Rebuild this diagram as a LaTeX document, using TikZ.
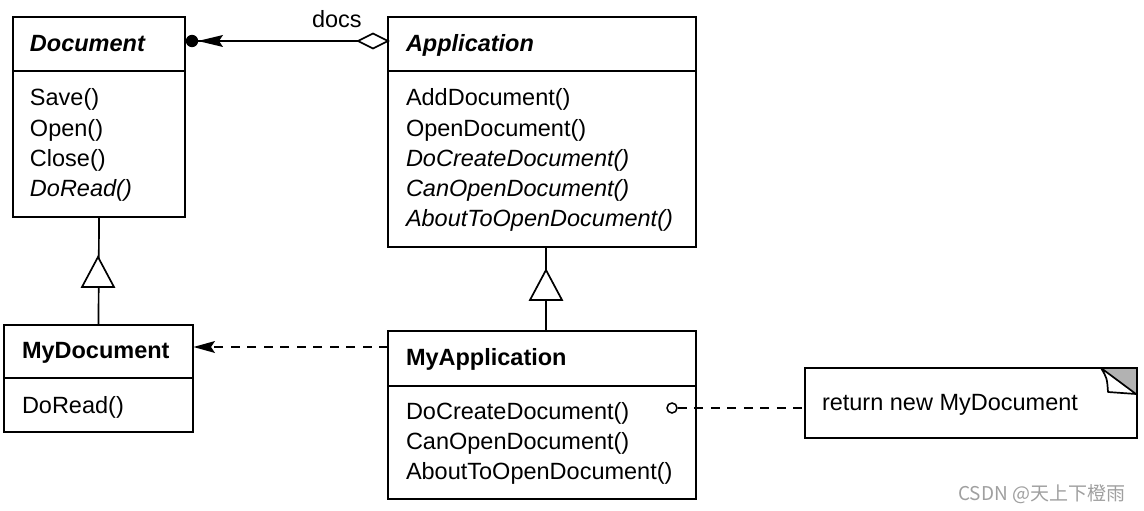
\documentclass[tikz,border=0pt]{standalone}
\usepackage{fontspec}
\setmainfont{Liberation Sans}
\newfontfamily\cjk{Noto Sans CJK SC}
\usetikzlibrary{arrows.meta}
\begin{document}
\begin{tikzpicture}[x=1pt,y=-1pt,
  box/.style={draw, line width=1.7pt, inner sep=0pt, outer sep=0pt},
  txt/.style={anchor=base west, inner sep=0pt, outer sep=0pt, font=\fontsize{23.5}{28}\selectfont},
  ln/.style={line width=1.7pt},
  dsh/.style={line width=1.7pt, dash pattern=on 9pt off 7.5pt},
  inh/.style={line width=1.7pt, fill=white, line join=miter}
]
\useasboundingbox (0,0) rectangle (1144,511);

% helper coordinates
\coordinate (y41) at (0,41);
\coordinate (y71) at (0,71);
\coordinate (y347) at (0,347);
\coordinate (y378) at (0,378);
\coordinate (y386) at (0,386);
\coordinate (ax) at (546,0);

% Document
\node[box, minimum width=172pt, minimum height=200pt] (doc) at (99,117) {};
\draw[ln] (doc.west |- y71) -- (doc.east |- y71);
\node[txt] (doct) at (30,52) {\bfseries\itshape Document};
\node[txt] (d1) at (30,106) {Save()};
\node[txt] (d2) at (30,136) {Open()};
\node[txt] (d3) at (30,166) {Close()};
\node[txt] (d4) at (30,196) {\itshape DoRead()};

% Application
\node[box, minimum width=308pt, minimum height=230pt] (app) at (542,132) {};
\draw[ln] (app.west |- y71) -- (app.east |- y71);
\node[txt] (appt) at (406,52) {\bfseries\itshape Application};
\node[txt] (a1) at (406,106) {AddDocument()};
\node[txt] (a2) at (406,136) {OpenDocument()};
\node[txt] (a3) at (406,166) {\itshape DoCreateDocument()};
\node[txt] (a4) at (406,196) {\itshape CanOpenDocument()};
\node[txt] (a5) at (406,226) {\itshape AboutToOpenDocument()};

% MyDocument
\node[box, minimum width=189pt, minimum height=107pt] (mydoc) at (98.5,378.5) {};
\draw[ln] (mydoc.west |- y378) -- (mydoc.east |- y378);
\node[txt] (mdt) at (22,358) {\bfseries MyDocument};
\node[txt] (md1) at (22,413) {DoRead()};

% MyApplication
\node[box, minimum width=308pt, minimum height=168pt] (myapp) at (542,415) {};
\draw[ln] (myapp.west |- y386) -- (myapp.east |- y386);
\node[txt] (mat) at (406,365) {\bfseries MyApplication};
\node[txt] (ma1) at (406,419) {DoCreateDocument()};
\node[txt] (ma2) at (406,449) {CanOpenDocument()};
\node[txt] (ma3) at (406,479) {AboutToOpenDocument()};

% note
\node[box, minimum width=332pt, minimum height=70pt] (note) at (971,403) {};
\fill[gray!60] (1101,368) -- (1137,368) -- (1137,394) -- cycle;
\filldraw[ln, fill=white, line join=round] (1101,368) .. controls (1107,378) .. (1108,392) -- (1136,394) -- cycle;
\draw[ln] (note.north west) rectangle (note.south east);
\node[txt] (nt) at (822,410) {return new MyDocument};

% docs association
\draw[ln] (doc.east |- y41) -- (app.west |- y41);
\fill (192,41) circle (6.2pt);
\fill (198,41) -- (223,35) -- (219,41) -- (223,47) -- cycle;
\filldraw[ln, fill=white, line join=miter] (358,41) -- (373,33.5) -- (388,41) -- (373,48.5) -- cycle;
\node[txt] (docs) at (312,28) {docs};

% generalizations
\draw[ln] (doc.south) -- (mydoc.north);
\draw[inh] (98,257) -- (114,287) -- (82,287) -- cycle;
\draw[ln] (app.south -| ax) -- (myapp.north -| ax);
\draw[inh] (546,270) -- (562,300) -- (530,300) -- cycle;

% dependency
\draw[dsh] (myapp.west |- y347) -- ([xshift=14pt]mydoc.east |- y347);
\fill (193.5,347) -- (215,341) -- (211,347) -- (215,353) -- cycle;

% note link
\node[circle, draw, line width=1.5pt, minimum size=10pt, inner sep=0pt] (c) at (672,408) {};
\draw[dsh] (c.east) -- (note.west |- c.east);

% watermark
\node[anchor=base west, inner sep=0pt, text=gray!75, font=\cjk\fontsize{19}{21}\selectfont] (wm) at (958,500) {CSDN @天上下橙雨};
\end{tikzpicture}
\end{document}
